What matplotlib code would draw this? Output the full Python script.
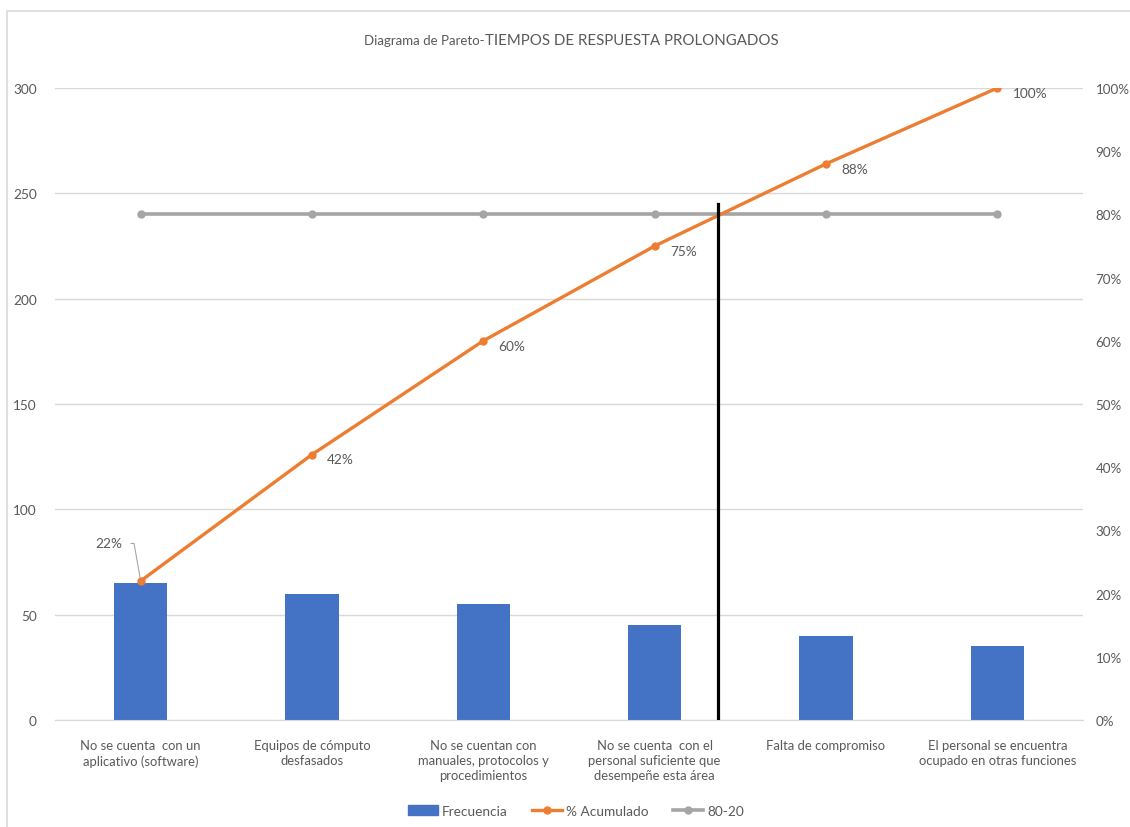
import matplotlib
matplotlib.use("Agg")
import matplotlib.pyplot as plt
from matplotlib.patches import Rectangle, Patch
from matplotlib.lines import Line2D
from matplotlib.ticker import FuncFormatter, MultipleLocator

plt.rcParams['font.family'] = ['Lato', 'DejaVu Sans']

categories = [
    "No se cuenta  con un\naplicativo (software)",
    "Equipos de cómputo\ndesfasados",
    "No se cuentan con\nmanuales, protocolos y\nprocedimientos",
    "No se cuenta  con el\npersonal suficiente que\ndesempeñe esta área",
    "Falta de compromiso",
    "El personal se encuentra\nocupado en otras funciones",
]
frecuencia = [65, 60, 55, 45, 40, 35]
pct_acumulado = [0.22, 0.42, 0.60, 0.75, 0.88, 1.00]
pct_labels = ["22%", "42%", "60%", "75%", "88%", "100%"]
linea_80_20 = [240, 240, 240, 240, 240, 240]
total = sum(frecuencia)
corte_x = 3.37
corte_top = 245

BLUE = "#4472C4"
ORANGE = "#ED7D31"
GRAY = "#A5A5A5"
TXT = "#595959"
GRID = "#D9D9D9"

W, H = 1130, 828
fig = plt.figure(figsize=(W / 100, H / 100), dpi=100)
ax = fig.add_axes([55 / W, 1 - 721 / H, (1083 - 55) / W, (721 - 89) / H])

x = list(range(len(categories)))
ax.bar(x, frecuencia, width=0.31, color=BLUE, zorder=2)

acum_vals = [p * total for p in pct_acumulado]
ax.plot(x, acum_vals, color=ORANGE, lw=2.4, marker="o", ms=5, zorder=4)
ax.plot(x, linea_80_20, color=GRAY, lw=2.6, marker="o", ms=5, zorder=3)
ax.plot([corte_x, corte_x], [0, corte_top], color="black", lw=2.3, zorder=5)

ax.set_xlim(-0.5, len(categories) - 0.5)
ax.set_ylim(0, 300)
ax.yaxis.set_major_locator(MultipleLocator(50))
ax.grid(axis="y", color=GRID, lw=1, zorder=0)
ax.set_axisbelow(True)
for s in ["top", "left", "right"]:
    ax.spines[s].set_visible(False)
ax.spines["bottom"].set_color(GRID)
ax.tick_params(axis="y", length=0, pad=13, labelsize=9.8, labelcolor=TXT)
ax.tick_params(axis="x", length=0, pad=14, labelsize=9.4, labelcolor=TXT)
ax.set_xticks(x)
ax.set_xticklabels(categories, linespacing=1.3)

ax2 = ax.twinx()
ax2.set_ylim(0, 1.0)
ax2.yaxis.set_major_locator(MultipleLocator(0.1))
ax2.yaxis.set_major_formatter(FuncFormatter(lambda v, p: f"{v * 100:.0f}%"))
for s in ax2.spines.values():
    s.set_visible(False)
ax2.tick_params(axis="y", length=0, pad=9, labelsize=9.6, labelcolor=TXT)

# cumulative percentage labels
for i, (v, lab) in enumerate(zip(acum_vals, pct_labels)):
    if i == 0:
        ax.annotate(lab, xy=(i, v), xytext=(-13, 27), textcoords="offset points",
                    ha="right", va="center", fontsize=9.8, color=TXT, zorder=6,
                    arrowprops=dict(arrowstyle="-", color="#A6A6A6", lw=0.8,
                                    shrinkA=4, shrinkB=2, relpos=(1, 0.5),
                                    connectionstyle="angle,angleA=0,angleB=100,rad=0"))
    else:
        ax.annotate(lab, xy=(i, v), xytext=(11, -3.5), textcoords="offset points",
                    ha="left", va="center", fontsize=9.8, color=TXT, zorder=6)

# title in two parts
fig.text(485 / W, 1 - 41 / H, "Diagrama de Pareto-", ha="right", va="center",
         fontsize=9.5, color=TXT)
fig.text(485 / W, 1 - 41 / H, "TIEMPOS DE RESPUESTA PROLONGADOS", ha="left",
         va="center", fontsize=10.8, color=TXT)

# chart frame
fig.patches.append(Rectangle((7 / W, -0.05), 1.2, 1 - 12 / H + 0.05,
                             transform=fig.transFigure, fill=False,
                             edgecolor=GRID, lw=1.2))

handles = [
    Patch(facecolor=BLUE, edgecolor=BLUE),
    Line2D([], [], color=ORANGE, lw=2.4, marker="o", ms=5),
    Line2D([], [], color=GRAY, lw=2.6, marker="o", ms=5),
]
fig.legend(handles, ["Frecuencia", "% Acumulado", "80-20"], loc="center",
           bbox_to_anchor=(576 / W, 1 - 812 / H), ncol=3, frameon=False,
           fontsize=9.8, labelcolor=TXT, handlelength=2.2, handletextpad=0.3,
           columnspacing=1.8, handleheight=0.8)

fig.savefig("out.png", dpi=100)
